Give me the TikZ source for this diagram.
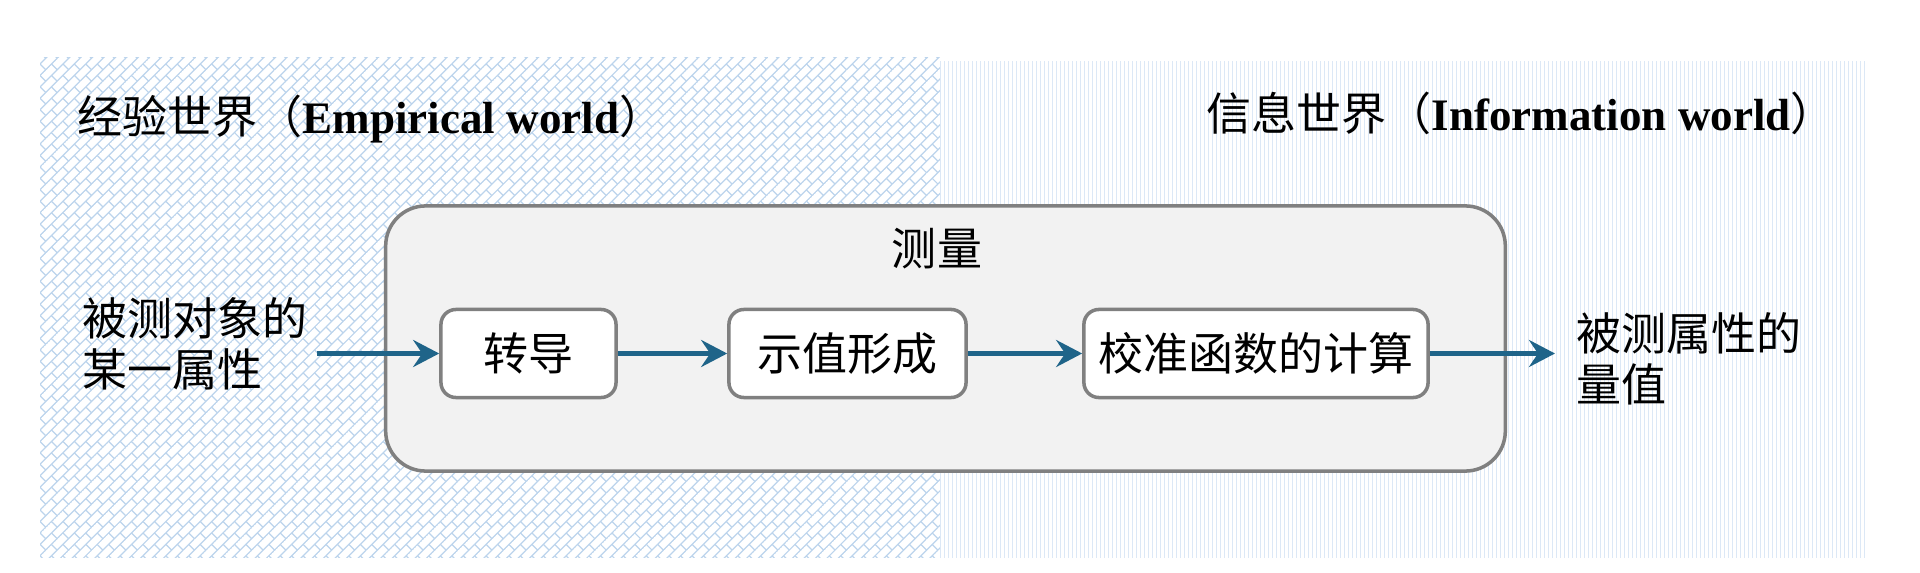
\documentclass[tikz,border=0pt]{standalone}
\usepackage{fontspec}
\setmainfont{Liberation Serif}
\newfontfamily\cjk{Noto Sans CJK SC}
\usetikzlibrary{arrows.meta,patterns,patterns.meta}
\definecolor{flowblue}{HTML}{1F6489}
\definecolor{boxgray}{HTML}{808080}
\definecolor{boxfill}{HTML}{F2F2F2}
\definecolor{brickblue}{HTML}{BCD4EC}
\definecolor{lineblue}{HTML}{DCE8F6}

% diagonal bricks for the empirical side
\tikzdeclarepattern{
  name=diagbricks,
  type=uncolored,
  bounding box={(-0.2pt,-0.2pt) and (4.8pt,4.8pt)},
  tile size={(4.6pt,4.6pt)},
  tile transformation={rotate=45},
  code={
    \draw[line width=0.35pt] (0pt,0pt) -- (4.6pt,0pt) (0pt,2.3pt) -- (4.6pt,2.3pt)
      (0pt,0pt) -- (0pt,2.3pt) (2.3pt,2.3pt) -- (2.3pt,4.6pt);
  }
}

\begin{document}
\begin{tikzpicture}[x=0.01cm,y=-0.01cm,
    txt/.style={font=\cjk\fontsize{12.8pt}{14.6pt}\selectfont,inner sep=0pt},
    stage/.style={txt,draw=boxgray,line width=1pt,fill=white,rounded corners=0.15cm,minimum height=0.88cm},
    flow/.style={draw=flowblue,line width=1.2pt,-{Stealth[length=0.26cm,width=0.27cm,inset=0.09cm]}}]
  \useasboundingbox (0,0) rectangle (1920,573);
  % the two worlds
  \fill[pattern=diagbricks,pattern color=brickblue] (40,58) rectangle (940,557);
  \fill[pattern={Lines[angle=90,distance=0.04cm,line width=0.012cm]},pattern color=lineblue] (940,62) rectangle (1866,557);
  \node[txt,anchor=west] (empw) at (77,119) {经验世界（{\rmfamily\bfseries Empirical world}）};
  \node[txt,anchor=west] (infw) at (1206,113) {信息世界（{\rmfamily\bfseries Information world}）};
  % measurement block
  \node[draw=boxgray,fill=boxfill,line width=1pt,rounded corners=0.4cm,
        minimum width=11.19cm,minimum height=2.65cm] (meas) at (945.5,338.5) {};
  \node[txt] (measlbl) at (937,249) {测量};
  \node[stage,minimum width=1.75cm] (b1) at (528.5,353.5) {转导};
  \node[stage,minimum width=2.37cm] (b2) at (847.5,353.5) {示值形成};
  \node[stage,minimum width=3.44cm] (b3) at (1256,353.5) {校准函数的计算};
  % input and output
  \node[txt,anchor=west,align=left] (obj) at (82,344) {被测对象的\\某一属性};
  \node[txt,anchor=west,align=left] (val) at (1576,359) {被测属性的\\量值};
  \draw[flow,shorten <=0.09cm] (obj.east |- b1) -- (b1);
  \draw[flow] (b1) -- (b2);
  \draw[flow] (b2) -- (b3);
  \draw[flow,shorten >=0.21cm] (b3) -- (val.west |- b3);
\end{tikzpicture}
\end{document}
